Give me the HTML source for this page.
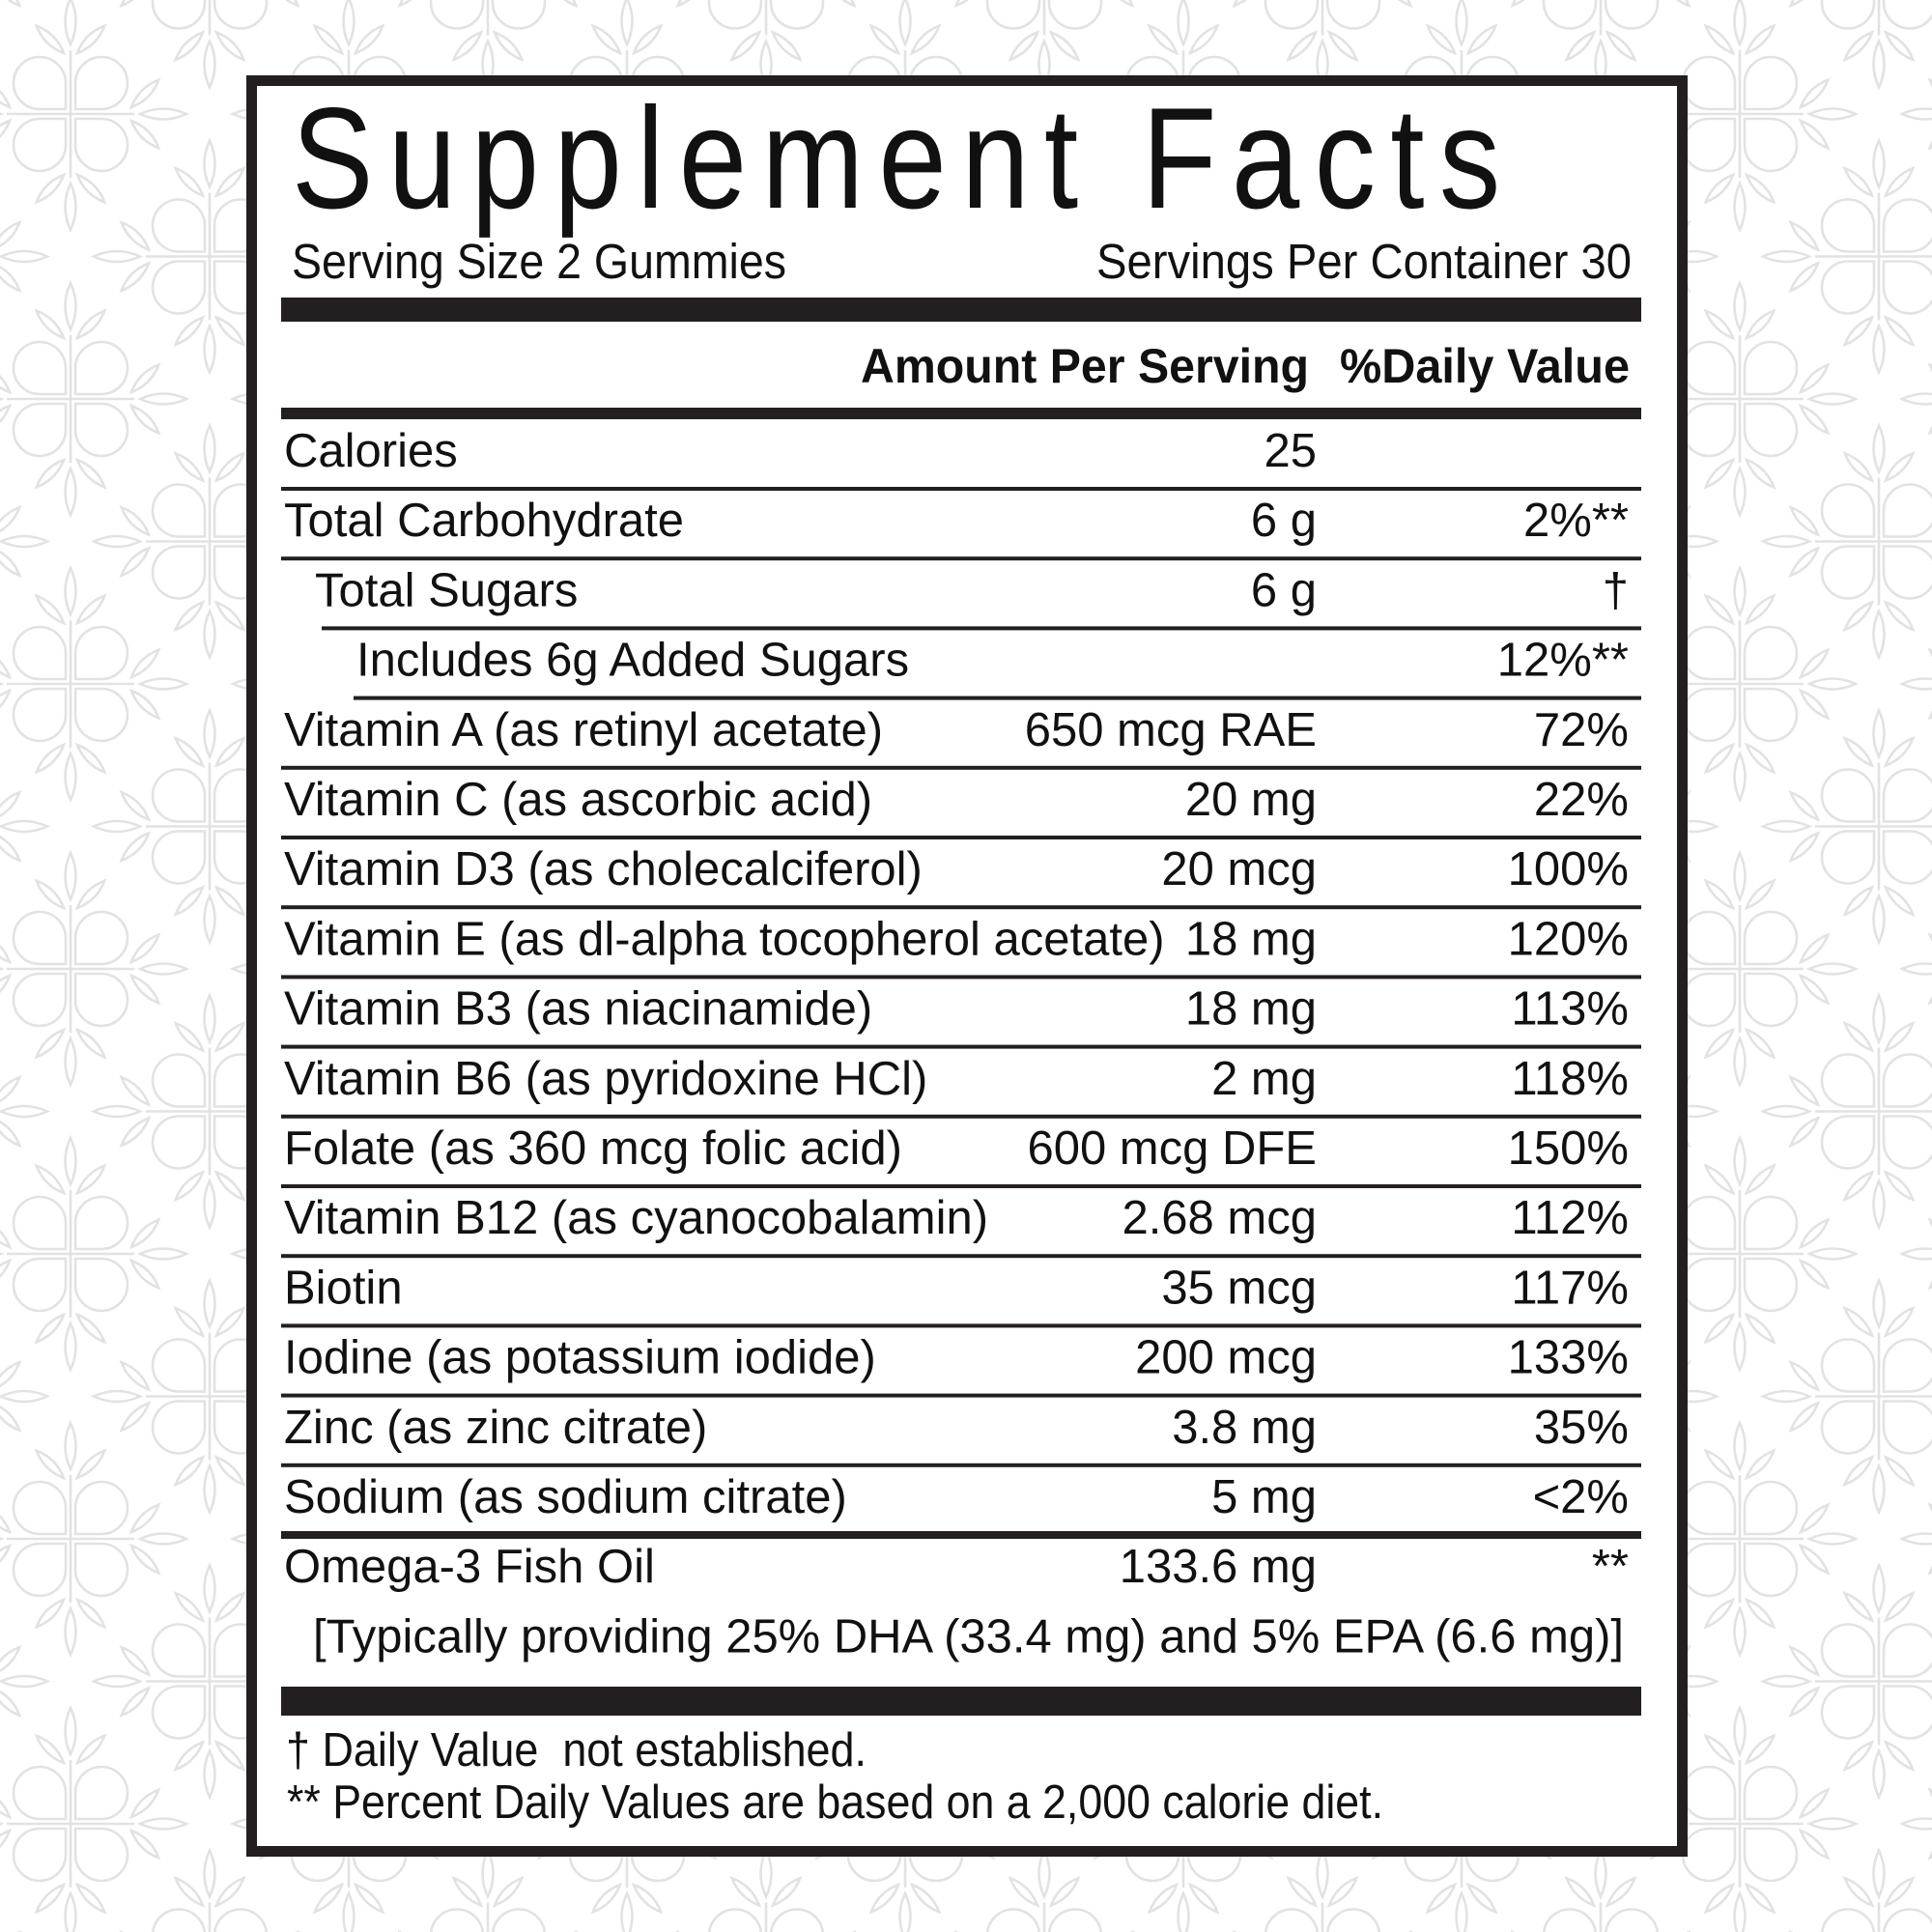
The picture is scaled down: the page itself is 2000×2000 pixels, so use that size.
<!DOCTYPE html>
<html>
<head>
<meta charset="utf-8">
<style>
html,body{margin:0;padding:0;background:#fff;}
svg{display:block;}
text{font-family:"Liberation Sans",Arial,sans-serif;fill:#111;}
</style>
</head>
<body>
<svg width="2000" height="2000" viewBox="0 0 2000 2000">
<defs>
  <path id="lf" d="M0,0 Q11,-24 0,-48 Q-11,-24 0,0Z"/>
  <path id="lfs" d="M0,0 Q9,-20 0,-40 Q-9,-20 0,0Z"/>
  <g id="arm">
    <use href="#lf" transform="translate(0,-72)"/>
    <use href="#lfs" transform="translate(-7,-63) rotate(-45)"/>
    <use href="#lfs" transform="translate(7,-63) rotate(45)"/>
  </g>
  <path id="pet" d="M-5,-5 L-5,-32 A27,27 0 0 0 -32,-59 A27,27 0 0 0 -59,-32 A27,27 0 0 0 -32,-5 Z"/>
  <g id="motif" fill="none" stroke="#e2e2e2" stroke-width="2.6">
    <path d="M-66,0 H66 M0,-66 V66"/>
    <use href="#pet"/>
    <use href="#pet" transform="rotate(90)"/>
    <use href="#pet" transform="rotate(180)"/>
    <use href="#pet" transform="rotate(270)"/>
    <use href="#arm"/>
    <use href="#arm" transform="rotate(90)"/>
    <use href="#arm" transform="rotate(180)"/>
    <use href="#arm" transform="rotate(270)"/>
  </g>
  <pattern id="bg" x="73" y="118" width="288" height="295" patternUnits="userSpaceOnUse">
    <use href="#motif" transform="translate(0,0)"/>
    <use href="#motif" transform="translate(288,0)"/>
    <use href="#motif" transform="translate(0,295)"/>
    <use href="#motif" transform="translate(288,295)"/>
    <use href="#motif" transform="translate(144,147.5)"/>
  </pattern>
</defs>

<rect x="0" y="0" width="2000" height="2000" fill="#fff"/>
<rect x="0" y="0" width="2000" height="2000" fill="url(#bg)"/>

<!-- Box -->
<rect x="260.5" y="83.5" width="1481" height="1833" fill="#fff" stroke="#231f20" stroke-width="11"/>

<!-- Title -->
<text x="0" y="0" transform="translate(302,215) scale(0.85,1)" font-size="149" textLength="1472" lengthAdjust="spacing">Supplement Facts</text>

<!-- Serving line -->
<text x="302" y="288" font-size="51" textLength="512" lengthAdjust="spacingAndGlyphs">Serving Size 2 Gummies</text>
<text x="1135" y="288" font-size="51" textLength="554" lengthAdjust="spacingAndGlyphs">Servings Per Container 30</text>

<!-- Bars -->
<rect x="291" y="308" width="1408" height="25" fill="#231f20"/>
<text x="891" y="396" font-size="50" font-weight="bold" textLength="464" lengthAdjust="spacingAndGlyphs">Amount Per Serving</text>
<text x="1387" y="396" font-size="50" font-weight="bold" textLength="300" lengthAdjust="spacingAndGlyphs">%Daily Value</text>
<rect x="291" y="422" width="1408" height="12" fill="#231f20"/>

<!-- Row lines -->
<g fill="#231f20">
  <rect x="291" y="504" width="1408" height="4"/>
  <rect x="291" y="576.2" width="1408" height="4"/>
  <rect x="333" y="648.4" width="1366" height="4"/>
  <rect x="366" y="720.6" width="1333" height="4"/>
  <rect x="291" y="792.8" width="1408" height="4"/>
  <rect x="291" y="865" width="1408" height="4"/>
  <rect x="291" y="937.2" width="1408" height="4"/>
  <rect x="291" y="1009.4" width="1408" height="4"/>
  <rect x="291" y="1081.6" width="1408" height="4"/>
  <rect x="291" y="1153.8" width="1408" height="4"/>
  <rect x="291" y="1226" width="1408" height="4"/>
  <rect x="291" y="1298.2" width="1408" height="4"/>
  <rect x="291" y="1370.4" width="1408" height="4"/>
  <rect x="291" y="1442.6" width="1408" height="4"/>
  <rect x="291" y="1514.8" width="1408" height="4"/>
  <rect x="291" y="1585" width="1408" height="8"/>
  <rect x="291" y="1746" width="1408" height="30"/>
</g>

<!-- Rows -->
<g font-size="49">
  <text x="294" y="483">Calories</text>
  <text x="1363" y="483" text-anchor="end">25</text>

  <text x="294" y="555.2">Total Carbohydrate</text>
  <text x="1363" y="555.2" text-anchor="end">6 g</text>
  <text x="1686" y="555.2" text-anchor="end">2%**</text>

  <text x="326" y="627.4">Total Sugars</text>
  <text x="1363" y="627.4" text-anchor="end">6 g</text>
  <text x="1686" y="627.4" text-anchor="end">†</text>

  <text x="369" y="699.6">Includes 6g Added Sugars</text>
  <text x="1686" y="699.6" text-anchor="end">12%**</text>

  <text x="294" y="771.8">Vitamin A (as retinyl acetate)</text>
  <text x="1363" y="771.8" text-anchor="end">650 mcg RAE</text>
  <text x="1686" y="771.8" text-anchor="end">72%</text>

  <text x="294" y="844">Vitamin C (as ascorbic acid)</text>
  <text x="1363" y="844" text-anchor="end">20 mg</text>
  <text x="1686" y="844" text-anchor="end">22%</text>

  <text x="294" y="916.2">Vitamin D3 (as cholecalciferol)</text>
  <text x="1363" y="916.2" text-anchor="end">20 mcg</text>
  <text x="1686" y="916.2" text-anchor="end">100%</text>

  <text x="294" y="988.4">Vitamin E (as dl-alpha tocopherol acetate)</text>
  <text x="1363" y="988.4" text-anchor="end">18 mg</text>
  <text x="1686" y="988.4" text-anchor="end">120%</text>

  <text x="294" y="1060.6">Vitamin B3 (as niacinamide)</text>
  <text x="1363" y="1060.6" text-anchor="end">18 mg</text>
  <text x="1686" y="1060.6" text-anchor="end">113%</text>

  <text x="294" y="1132.8">Vitamin B6 (as pyridoxine HCl)</text>
  <text x="1363" y="1132.8" text-anchor="end">2 mg</text>
  <text x="1686" y="1132.8" text-anchor="end">118%</text>

  <text x="294" y="1205">Folate (as 360 mcg folic acid)</text>
  <text x="1363" y="1205" text-anchor="end">600 mcg DFE</text>
  <text x="1686" y="1205" text-anchor="end">150%</text>

  <text x="294" y="1277.2">Vitamin B12 (as cyanocobalamin)</text>
  <text x="1363" y="1277.2" text-anchor="end">2.68 mcg</text>
  <text x="1686" y="1277.2" text-anchor="end">112%</text>

  <text x="294" y="1349.4">Biotin</text>
  <text x="1363" y="1349.4" text-anchor="end">35 mcg</text>
  <text x="1686" y="1349.4" text-anchor="end">117%</text>

  <text x="294" y="1421.6">Iodine (as potassium iodide)</text>
  <text x="1363" y="1421.6" text-anchor="end">200 mcg</text>
  <text x="1686" y="1421.6" text-anchor="end">133%</text>

  <text x="294" y="1493.8">Zinc (as zinc citrate)</text>
  <text x="1363" y="1493.8" text-anchor="end">3.8 mg</text>
  <text x="1686" y="1493.8" text-anchor="end">35%</text>

  <text x="294" y="1566">Sodium (as sodium citrate)</text>
  <text x="1363" y="1566" text-anchor="end">5 mg</text>
  <text x="1686" y="1566" text-anchor="end">&lt;2%</text>

  <text x="294" y="1638.2">Omega-3 Fish Oil</text>
  <text x="1363" y="1638.2" text-anchor="end">133.6 mg</text>
  <text x="1686" y="1638.2" text-anchor="end">**</text>

  <text x="324" y="1710.4" textLength="1357" lengthAdjust="spacingAndGlyphs">[Typically providing 25% DHA (33.4 mg) and 5% EPA (6.6 mg)]</text>
</g>

<!-- Footer -->
<text x="296" y="1828" font-size="49" style="white-space:pre" textLength="601" lengthAdjust="spacingAndGlyphs">† Daily Value  not established.</text>
<text x="297" y="1882" font-size="49" textLength="1135" lengthAdjust="spacingAndGlyphs">** Percent Daily Values are based on a 2,000 calorie diet.</text>
</svg>
</body>
</html>
